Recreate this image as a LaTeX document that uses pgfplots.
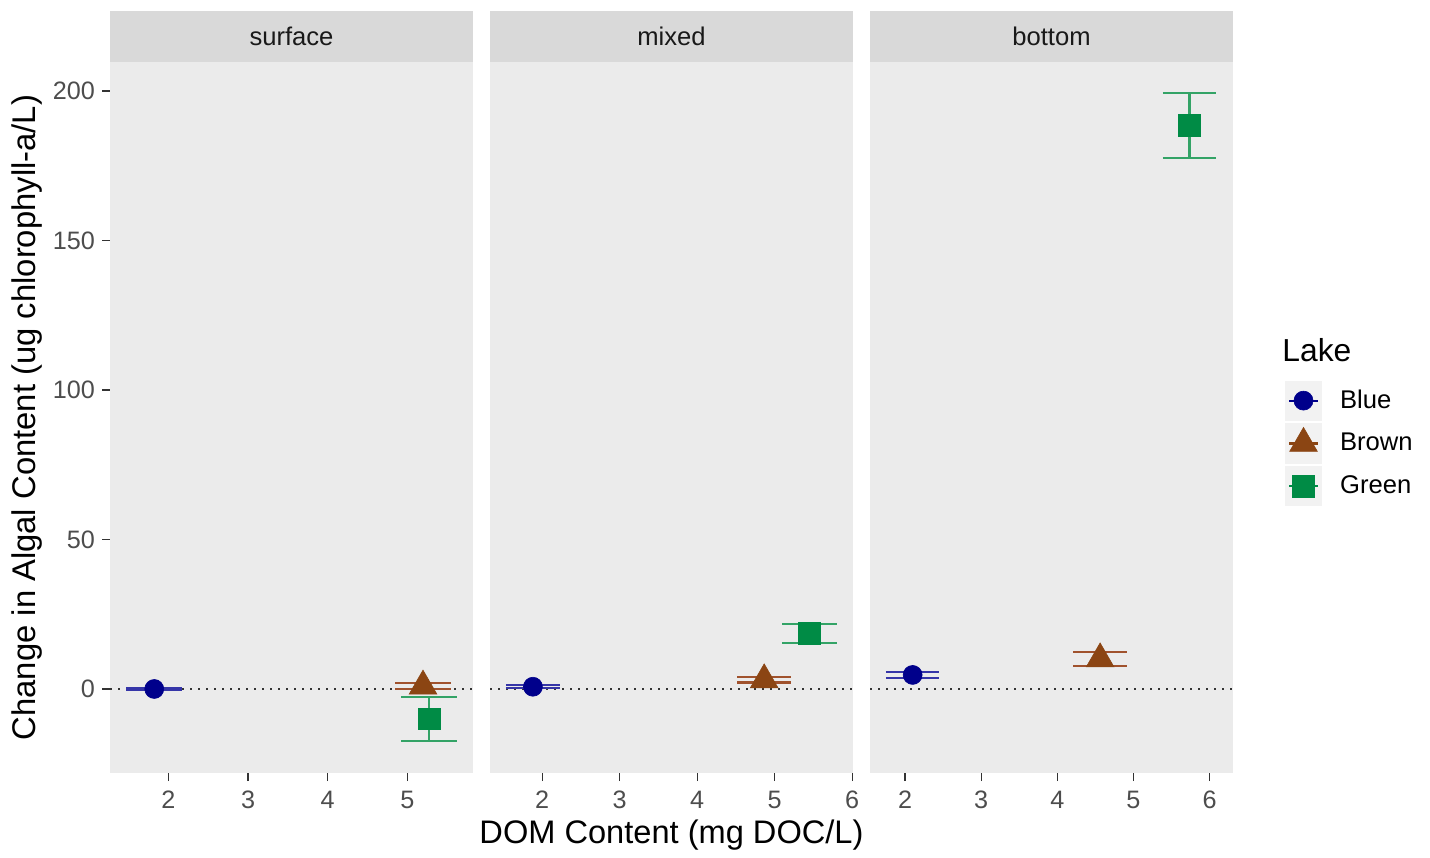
\documentclass[border=0pt]{standalone}
\usepackage{pgfplots}
\pgfplotsset{compat=1.18}
\usepackage{fontspec}
\setmainfont{Liberation Sans}
\setsansfont{Liberation Sans}
\definecolor{panelbg}{HTML}{EBEBEB}
\definecolor{stripbg}{HTML}{D9D9D9}
\definecolor{legkey}{HTML}{F2F2F2}
\definecolor{cblue}{HTML}{00008B}
\definecolor{cbrown}{HTML}{8B4513}
\definecolor{cgreen}{HTML}{008B45}
\definecolor{eblue}{HTML}{3535A8}
\definecolor{ebrown}{HTML}{A0522D}
\definecolor{egreen}{HTML}{33A366}
\definecolor{tickcol}{HTML}{4D4D4D}
\definecolor{tickmark}{HTML}{333333}
\pgfplotsset{
  facet/.style={
    at={(#1)}, anchor=south west,
    width=181.5pt, height=355.5pt, scale only axis,
    ymin=-28.1, ymax=209.7,
    /pgf/number format/assume math mode=true,
    axis background/.style={fill=panelbg},
    axis line style={draw=none},
    tick align=outside, major tick length=4pt,
    tick style={tickmark, line width=0.6pt},
    xtick pos=left, ytick pos=left,
    ticklabel style={font=\fontsize{12.6}{14}\selectfont, text=tickcol},
    xticklabel style={yshift=-1.5pt},
    every axis title shift=0pt,
    title style={at={(0.5,1)}, anchor=south, yshift=0pt, fill=stripbg,
      minimum width=181.5pt, minimum height=25.5pt, inner sep=0pt,
      font=\fontsize{12.8}{14}\selectfont, text=black!90},
    unbounded coords=jump,
    clip mode=individual,
    every axis plot/.append style={line width=1.1pt},
  },
  zeroline/.style={forget plot, black!80, line width=0.65pt, dash pattern=on 0.8pt off 3.2pt},
  errb/.style={forget plot, #1, line width=1.1pt},
  keyimg/.style={legend image code/.code={
      \fill[legkey] (0pt,-9.5pt) rectangle (17.5pt,9.5pt);
      \draw[##1, line width=1.1pt, mark=none] (1.5pt,0pt) -- (16pt,0pt);
      \draw[##1] plot coordinates {(8.75pt,0pt)};
  }},
}
\begin{document}
\begin{tikzpicture}
\path[use as bounding box] (0,0) rectangle (715pt,428.5pt);
% ---------- surface ----------
\begin{axis}[facet={55pt,42pt}, title={surface},
  xmin=1.269, xmax=5.822, xtick={2,3,4,5},
  ytick={0,50,100,150,200},
  ylabel={Change in Algal Content (ug chlorophyll-a/L)},
  ylabel style={at={(axis description cs:-0.2287,0.5)}, anchor=center,
    font=\fontsize{16.4}{18}\selectfont, text=black}]
\addplot[zeroline] coordinates {(1.269,0) (5.822,0)};
\addplot[errb=eblue] coordinates {(1.474,0.15) (2.174,0.15) (nan,nan) (1.474,-0.15) (2.174,-0.15) (nan,nan) (1.824,0.15) (1.824,-0.15)};
\addplot[errb=ebrown] coordinates {(4.845,2.0) (5.545,2.0) (nan,nan) (4.845,-0.1) (5.545,-0.1) (nan,nan) (5.195,2.0) (5.195,-0.1)};
\addplot[errb=egreen] coordinates {(4.924,-2.6) (5.624,-2.6) (nan,nan) (4.924,-17.3) (5.624,-17.3) (nan,nan) (5.274,-2.6) (5.274,-17.3)};
\addplot[only marks, mark=*, color=cblue, mark size=4.75pt, mark options={line width=0.3pt}] coordinates {(1.824,0)};
\addplot[only marks, mark=triangle*, color=cbrown, mark size=8pt, mark options={line width=0.3pt}] coordinates {(5.195,0.95)};
\addplot[only marks, mark=square*, color=cgreen, mark size=5.4pt, mark options={line width=0.3pt}] coordinates {(5.274,-9.95)};
\end{axis}
% ---------- mixed ----------
\begin{axis}[facet={245pt,42pt}, title={mixed},
  xmin=1.326, xmax=6.01, xtick={2,3,4,5,6},
  ytick=\empty,
  xlabel={DOM Content (mg DOC/L)},
  xlabel style={at={(axis description cs:0.5,0)}, yshift=-31pt, anchor=center,
    font=\fontsize{16.3}{18}\selectfont, text=black}]
\addplot[zeroline] coordinates {(1.326,0) (6.01,0)};
\addplot[errb=eblue] coordinates {(1.53,1.3) (2.23,1.3) (nan,nan) (1.53,0.2) (2.23,0.2) (nan,nan) (1.88,1.3) (1.88,0.2)};
\addplot[errb=ebrown] coordinates {(4.514,3.9) (5.214,3.9) (nan,nan) (4.514,2.2) (5.214,2.2) (nan,nan) (4.864,3.9) (4.864,2.2)};
\addplot[errb=egreen] coordinates {(5.099,21.7) (5.799,21.7) (nan,nan) (5.099,15.5) (5.799,15.5) (nan,nan) (5.449,21.7) (5.449,15.5)};
\addplot[only marks, mark=*, color=cblue, mark size=4.75pt, mark options={line width=0.3pt}] coordinates {(1.88,0.75)};
\addplot[only marks, mark=triangle*, color=cbrown, mark size=8pt, mark options={line width=0.3pt}] coordinates {(4.864,3.05)};
\addplot[only marks, mark=square*, color=cgreen, mark size=5.4pt, mark options={line width=0.3pt}] coordinates {(5.449,18.6)};
\end{axis}
% ---------- bottom ----------
\begin{axis}[facet={435pt,42pt}, title={bottom},
  xmin=1.54, xmax=6.307, xtick={2,3,4,5,6},
  ytick=\empty,
  legend style={at={(1.143,0.552)}, anchor=north west, draw=none, fill=none,
    inner sep=0pt, outer sep=0pt, row sep=1.3pt,
    font=\fontsize{12.8}{14}\selectfont,
    /tikz/every odd column/.append style={column sep=7pt}},
  legend cell align=left]
\addplot[zeroline] coordinates {(1.54,0) (6.307,0)};
\addplot[errb=eblue] coordinates {(1.75,5.6) (2.45,5.6) (nan,nan) (1.75,3.8) (2.45,3.8) (nan,nan) (2.1,5.6) (2.1,3.8)};
\addplot[errb=ebrown] coordinates {(4.212,12.3) (4.912,12.3) (nan,nan) (4.212,7.8) (4.912,7.8) (nan,nan) (4.562,12.3) (4.562,7.8)};
\addplot[errb=egreen] coordinates {(5.386,199.2) (6.086,199.2) (nan,nan) (5.386,177.7) (6.086,177.7) (nan,nan) (5.736,199.2) (5.736,177.7)};
\addplot[keyimg, only marks, mark=*, color=cblue, mark size=4.75pt, mark options={line width=0.3pt}] coordinates {(2.1,4.7)};
\addlegendentry{Blue}
\addplot[keyimg, only marks, mark=triangle*, color=cbrown, mark size=8pt, mark options={line width=0.3pt}] coordinates {(4.562,10.05)};
\addlegendentry{Brown}
\addplot[keyimg, only marks, mark=square*, color=cgreen, mark size=5.4pt, mark options={line width=0.3pt}] coordinates {(5.736,188.45)};
\addlegendentry{Green}
\node[anchor=west, inner sep=0pt, font=\fontsize{15.9}{18}\selectfont] at (rel axis cs:1.135,0.595) {Lake};
\end{axis}
\end{tikzpicture}
\end{document}
